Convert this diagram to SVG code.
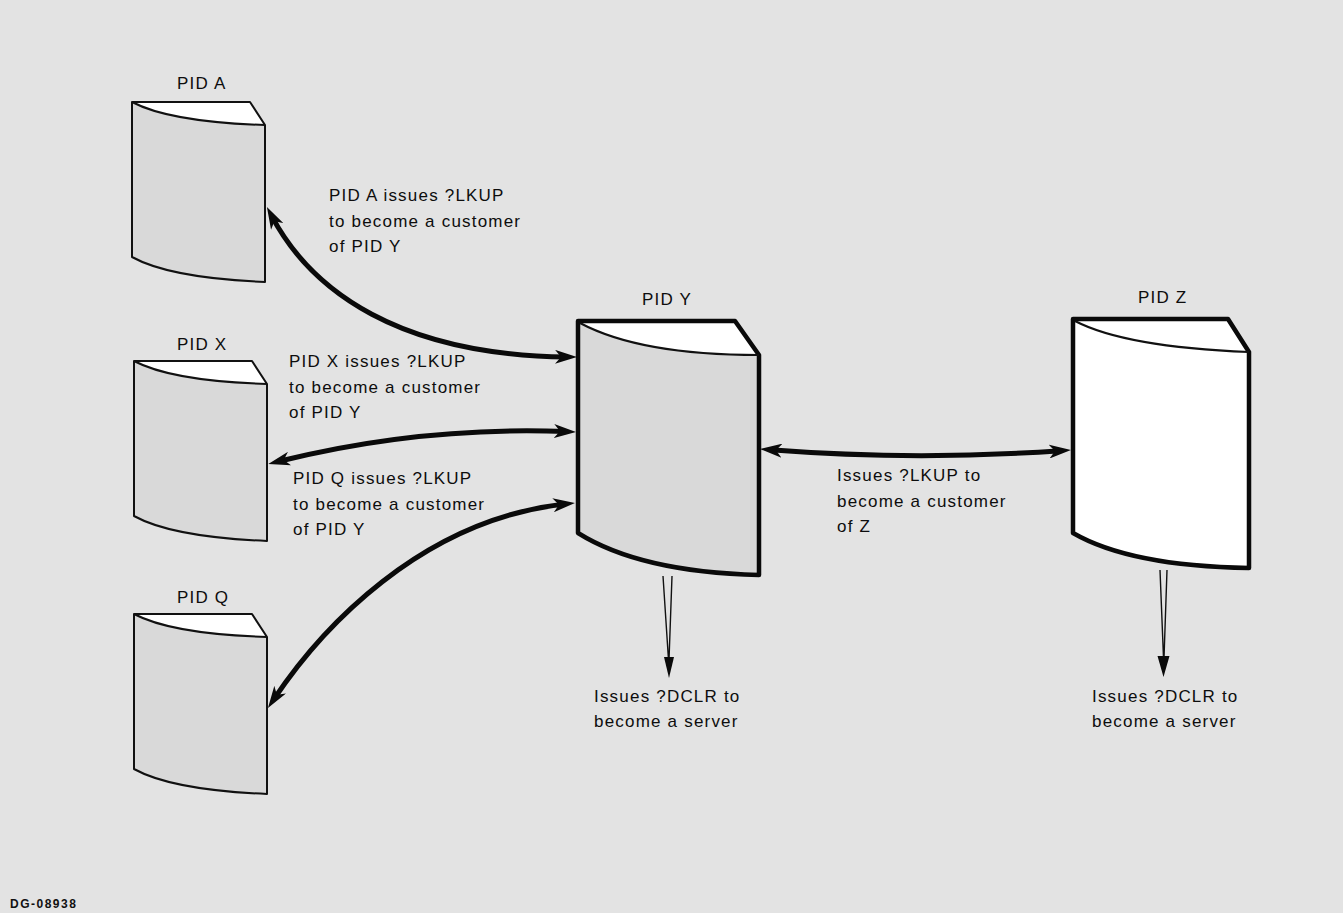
<svg xmlns="http://www.w3.org/2000/svg" width="1343" height="913" viewBox="0 0 1343 913">
<style>
.t{font-family:"Liberation Sans",Arial,Helvetica,sans-serif;font-size:17px;letter-spacing:1.2px;fill:#0d0d0d}
.face{fill:#d9d9d9}
.top{fill:#ffffff}
.thin{fill:none;stroke:#111;stroke-width:2;stroke-linejoin:round}
.thick{fill:none;stroke:#0a0a0a;stroke-width:4.5;stroke-linejoin:round}
.conn{fill:none;stroke:#0a0a0a;stroke-width:5;stroke-linecap:butt}
.wedge{fill:none;stroke:#111;stroke-width:1.4}
</style>
<defs>
<marker id="ah" markerUnits="userSpaceOnUse" markerWidth="22" markerHeight="14" refX="12" refY="7" orient="auto-start-reverse" viewBox="0 0 22 14">
<path d="M0,0 L22,7 L0,14 L6,7 Z" fill="#0a0a0a"/>
</marker>
<g id="small">
<path class="face" d="M0,0 Q38,20 133,23 L133,180 Q38,176 0,155 Z"/>
<path class="top" d="M0,0 L118,0 L133,23 Q38,20 0,0 Z"/>
<path class="thin" d="M0,0 L118,0 L133,23 L133,180 Q38,176 0,155 Z M0,0 Q38,20 133,23"/>
</g>
</defs>
<rect width="1343" height="913" fill="#e3e3e3"/>

<g id="pidA">
<use href="#small" x="132" y="102"/>
<text class="t" x="177" y="89">PID A</text>
</g>
<g id="pidX">
<use href="#small" x="134" y="361"/>
<text class="t" x="177" y="350">PID X</text>
</g>
<g id="pidQ">
<use href="#small" x="134" y="614"/>
<text class="t" x="177" y="603">PID Q</text>
</g>
<g id="pidY">
<path class="face" d="M578,321 Q640,355 759,355 L759,575 Q640,572 578,533 Z"/>
<path class="top" d="M578,321 L735,321 L759,355 Q640,355 578,321 Z"/>
<path class="thick" d="M578,321 L735,321 L759,355 L759,575 Q640,572 578,533 Z"/>
<path fill="none" stroke="#111" stroke-width="2" d="M580,323 Q640,355 759,355"/>
<text class="t" x="642" y="305">PID Y</text>
</g>
<g id="pidZ">
<path fill="#ffffff" d="M1073,319 L1228,319 L1249,352 L1249,568 Q1130,566 1073,533 Z"/>
<path class="thick" d="M1073,319 L1228,319 L1249,352 L1249,568 Q1130,566 1073,533 Z"/>
<path fill="none" stroke="#111" stroke-width="2" d="M1075,321 Q1125,347 1249,352"/>
<text class="t" x="1138" y="303">PID Z</text>
</g>

<g id="connectors">
<path class="conn" marker-start="url(#ah)" marker-end="url(#ah)" d="M271.6,215.9 C312,292 400,355 567,357"/>
<path class="conn" marker-start="url(#ah)" marker-end="url(#ah)" d="M278,461.5 Q420,426 566,431.5"/>
<path class="conn" marker-start="url(#ah)" marker-end="url(#ah)" d="M273.5,699.7 C320,630 420,520 565,504"/>
<path class="conn" marker-start="url(#ah)" marker-end="url(#ah)" d="M770,449.8 Q915,461 1061,450.7"/>
<path class="wedge" d="M663,576 L668.5,660 M672,576 L669,660"/>
<polygon points="664,657 674,657 669,678" fill="#0a0a0a"/>
<path class="wedge" d="M1160,570 L1163.5,658 M1167,570 L1164,658"/>
<polygon points="1157.5,656 1169.5,656 1163.5,677" fill="#0a0a0a"/>
</g>

<g id="labels">
<text class="t" x="329" y="201">PID A issues ?LKUP</text>
<text class="t" x="329" y="227">to become a customer</text>
<text class="t" x="329" y="252">of PID Y</text>
<text class="t" x="289" y="367">PID X issues ?LKUP</text>
<text class="t" x="289" y="393">to become a customer</text>
<text class="t" x="289" y="418">of PID Y</text>
<text class="t" x="293" y="484">PID Q issues ?LKUP</text>
<text class="t" x="293" y="510">to become a customer</text>
<text class="t" x="293" y="535">of PID Y</text>
<text class="t" x="837" y="481">Issues ?LKUP to</text>
<text class="t" x="837" y="507">become a customer</text>
<text class="t" x="837" y="532">of Z</text>
<text class="t" x="594" y="702">Issues ?DCLR to</text>
<text class="t" x="594" y="727">become a server</text>
<text class="t" x="1092" y="702">Issues ?DCLR to</text>
<text class="t" x="1092" y="727">become a server</text>
<text x="10" y="908" font-family="Liberation Sans,Arial,sans-serif" font-size="12" font-weight="bold" letter-spacing="1.5" fill="#111">DG-08938</text>
</g>
</svg>
